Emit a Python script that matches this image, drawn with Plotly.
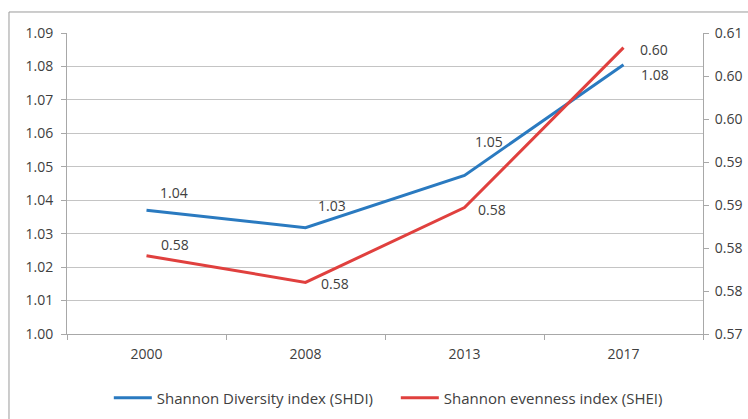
import plotly.graph_objects as go

# Landscape metrics by year
years = ["2000", "2008", "2013", "2017"]
shdi = [1.0370, 1.0318, 1.0474, 1.0805]   # Shannon Diversity index
shei = [0.5791, 0.5760, 0.5847, 0.6033]   # Shannon evenness index

left_ticks = [1.00, 1.01, 1.02, 1.03, 1.04, 1.05, 1.06, 1.07, 1.08, 1.09]
right_tickvals = [0.570, 0.575, 0.580, 0.585, 0.590, 0.595, 0.600, 0.605]
right_ticktext = ["0.57", "0.58", "0.58", "0.59", "0.59", "0.60", "0.60", "0.61"]

BLUE = "#2A7AC0"
RED = "#E0403E"
GRID = "#C4C4C4"
AXIS = "#A8A8A8"
TXT = "#404040"
FONT = "Open Sans"
FS = 14

fig = go.Figure()
fig.add_trace(go.Scatter(x=years, y=shdi, mode="lines", name="Shannon Diversity index (SHDI)",
                         line=dict(color=BLUE, width=3), yaxis="y"))
fig.add_trace(go.Scatter(x=years, y=shei, mode="lines", name="Shannon evenness index (SHEI)",
                         line=dict(color=RED, width=3), yaxis="y2"))

# value labels, offset from each point (category axis -> use the category index)
shdi_off = [(27, 18), (26, 22), (24, 34), (31, -10)]
shei_off = [(28, 11), (29, -1), (27, -2), (30, -2)]
anns = []
for i, (v, (dx, dy)) in enumerate(zip(shdi, shdi_off)):
    anns.append(dict(x=i, y=v, xref="x", yref="y", text=f"{v:.2f}", showarrow=False,
                     xshift=dx, yshift=dy, font=dict(family=FONT, size=FS, color=TXT)))
for i, (v, (dx, dy)) in enumerate(zip(shei, shei_off)):
    anns.append(dict(x=i, y=v, xref="x", yref="y2", text=f"{v:.2f}", showarrow=False,
                     xshift=dx, yshift=dy, font=dict(family=FONT, size=FS, color=TXT)))

fig.update_layout(
    width=748, height=419,
    margin=dict(l=67, r=45, t=33, b=85, autoexpand=False),
    paper_bgcolor="white", plot_bgcolor="white",
    font=dict(family=FONT, size=FS, color=TXT),
    hovermode=False,
    annotations=anns,
    showlegend=True,
    legend=dict(orientation="h", x=0.517, xanchor="center", y=-0.213, yanchor="middle",
                font=dict(family=FONT, size=15, color=TXT), bgcolor="rgba(0,0,0,0)",
                itemwidth=38, entrywidth=234, tracegroupgap=0),
    xaxis=dict(type="category", range=[-0.5, 3.5], showgrid=False, showline=True,
               linecolor=AXIS, linewidth=1, ticks="outside", tickson="boundaries",
               ticklen=5, tickcolor=AXIS, tickfont=dict(family=FONT, size=FS, color=TXT),
               ticklabelstandoff=7, zeroline=False, fixedrange=True),
    yaxis=dict(range=[1.00, 1.09], tickvals=left_ticks, tickformat=".2f",
               showgrid=True, gridcolor=GRID, gridwidth=1, showline=True, linecolor=AXIS,
               ticks="outside", ticklen=5, tickcolor=AXIS, zeroline=False,
               ticklabelstandoff=5,
               tickfont=dict(family=FONT, size=FS, color=TXT), fixedrange=True),
    yaxis2=dict(range=[0.570, 0.605], tickvals=right_tickvals, ticktext=right_ticktext,
                overlaying="y", side="right", showgrid=False, showline=True, linecolor=AXIS,
                ticks="outside", ticklen=5, tickcolor=AXIS, zeroline=False,
                ticklabelstandoff=3,
                tickfont=dict(family=FONT, size=FS, color=TXT), fixedrange=True),
    shapes=[dict(type="rect", xref="paper", yref="paper", x0=-0.0912, x1=1.12,
                 y0=-0.33, y1=1.0698, line=dict(color="#9A9A9A", width=1),
                 fillcolor="rgba(0,0,0,0)", layer="below")],
)

fig.write_html("out.html")
